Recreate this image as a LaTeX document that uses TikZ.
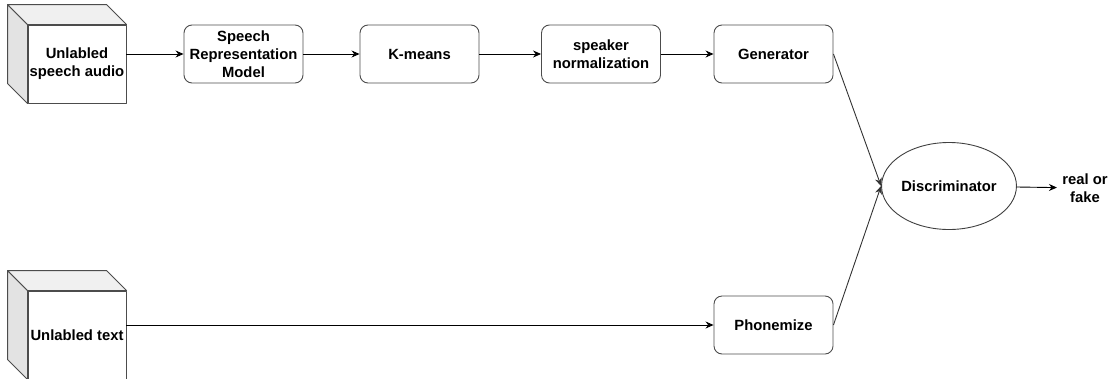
\documentclass[tikz,border=0pt]{standalone}
\usepackage{fontspec}
\setmainfont{Liberation Sans}
\usetikzlibrary{arrows.meta,shapes.geometric,positioning}
\begin{document}
\begin{tikzpicture}[x=1pt,y=-1pt,>={Stealth[length=8pt,width=7pt]}, font=\fontsize{14.8}{17.8}\selectfont\bfseries, line join=round, line width=0.9pt,
	blk/.style={draw=black!70, rounded corners=8pt, minimum width=119pt, minimum height=58pt, align=center, inner sep=2pt},
	face/.style={draw=black!70, fill=white, minimum width=98pt, align=center, inner sep=0pt}]
	\useasboundingbox (0,0) rectangle (1115,378);
	\def\dep{20}
	\node[face, minimum height=78pt] (audio) at (77,64) {Unlabled\\speech audio};
	\node[face, minimum height=88pt] (txt) at (77,335) {Unlabled text};
	\foreach \n in {audio,txt}
	{\filldraw[draw=black!70, fill=black!11] (\n.north west) -- ++(-\dep,-\dep) -- ([shift={(-\dep,-\dep)}]\n.south west) -- (\n.south west) -- cycle;
		\filldraw[draw=black!70, fill=black!6] (\n.north west) -- ++(-\dep,-\dep) -- ([shift={(-\dep,-\dep)}]\n.north east) -- (\n.north east) -- cycle;}
	\node[blk] (srm) at (243.5,54) {Speech\\Representation\\Model};
	\node[blk] (km) at (419.5,54) {K-means};
	\node[blk] (spk) at (601,54) {speaker\\normalization};
	\node[blk] (gen) at (773.5,54) {Generator};
	\node[blk] (phon) at (773.5,325) {Phonemize};
	\node[draw=black!75, ellipse, minimum width=118pt, minimum height=87pt, inner sep=0pt] (disc) at (949,186) {Discriminator};
	\node[align=center, inner sep=5pt] (out) at (1085,188) {real or\\fake};
	\draw[->] ([yshift=10pt]audio.east) -- (srm.west);
	\draw[->] (srm) -- (km);
	\draw[->] (km) -- (spk);
	\draw[->] (spk) -- (gen);
	\draw[->] ([yshift=10pt]txt.east) -- (phon.west);
	\draw[->, black!80] (gen.east) -- (disc.west);
	\draw[->, black!80] (phon.east) -- (disc.west);
	\draw[->] (disc) -- (out);
\end{tikzpicture}
\end{document}
